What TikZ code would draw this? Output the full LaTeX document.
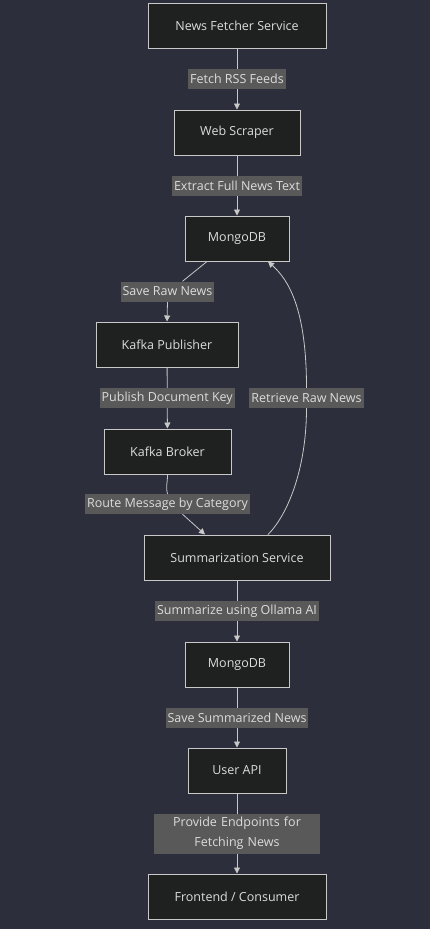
\documentclass[tikz,border=0pt]{standalone}
\usepackage{fontspec}
\setmainfont{Open Sans}
\usetikzlibrary{arrows.meta}
\definecolor{bgcol}{HTML}{2C2F3B}
\definecolor{boxfill}{HTML}{1F2020}
\definecolor{boxline}{HTML}{C8C8C8}
\definecolor{lblfill}{HTML}{595959}
\definecolor{txtcol}{HTML}{DCDCDC}
\tikzstyle{vertex}=[rectangle,draw=boxline,fill=boxfill,text=txtcol,minimum height=45pt,inner sep=0pt,line width=1pt,font=\fontsize{12.5}{15}\selectfont]
\tikzstyle{edge} = [draw=boxline,line width=0.8pt]
\tikzstyle{arrow} = [-{Triangle[width=6pt,length=6pt]}]
\tikzstyle{weight} = [fill=lblfill,text=txtcol,inner xsep=2pt,inner ysep=0pt,minimum height=20pt,align=center,font=\fontsize{12.5}{20}\selectfont]

\begin{document}
\begin{tikzpicture}[x=1pt,y=-1pt]
        \fill[bgcol] (0,0) rectangle (430,929);
        \useasboundingbox (0,0) rectangle (430,929);
        \node[vertex,minimum width=178pt] (1) at (237,25.5) {News Fetcher Service};
        \node[vertex,minimum width=126pt] (2) at (237,132.5) {Web Scraper};
        \node[vertex,minimum width=104pt] (3) at (237,238.5) {MongoDB};
        \node[vertex,minimum width=142pt] (4) at (167,344.5) {Kafka Publisher};
        \node[vertex,minimum width=127pt] (5) at (167.5,451.5) {Kafka Broker};
        \node[vertex,minimum width=186pt] (6) at (237,557.5) {Summarization Service};
        \node[vertex,minimum width=104pt] (7) at (237,664.5) {MongoDB};
        \node[vertex,minimum width=98pt] (8) at (237,770.5) {User API};
        \node[vertex,minimum width=178pt] (9) at (237,896.5) {Frontend / Consumer};
        % labels of the bent edges
        \node[weight] (l3) at (167.5,291.5) {Save Raw News};
        \node[weight] (l5) at (167.5,504) {Route Message by Category};
        \node[weight] (l6) at (306.5,398) {Retrieve Raw News};
        \path[edge,arrow] (1) -- node[weight] {Fetch RSS Feeds} (2);
        \path[edge,arrow] (2) -- node[weight] {Extract Full News Text} (3);
        \path[edge] ([xshift=-30pt]3.south) -- ([xshift=15pt]l3.north);
        \path[edge,arrow] (l3.south) -- (4.north);
        \path[edge,arrow] (4) -- node[weight] {Publish Document Key} (5);
        \path[edge] (5.south) .. controls +(0,10) and +(-2,-8) .. (l5.north);
        \path[edge,arrow] ([xshift=15pt]l5.south) -- ([xshift=-32pt]6.north);
        \path[edge] ([xshift=31pt]6.north) .. controls +(20,-20) and +(0,60) .. (l6.south);
        \path[edge,arrow] (l6.north) .. controls +(0,-80) and +(20,18) .. ([xshift=31pt]3.south);
        \path[edge,arrow] (6) -- node[weight] {Summarize using Ollama AI} (7);
        \path[edge,arrow] (7) -- node[weight] {Save Summarized News} (8);
        \path[edge,arrow] (8) -- node[weight,text width=162pt,minimum height=40pt] {Provide Endpoints for\\Fetching News} (9);
        % redraw the bent labels on top
        \node[weight] at (l3) {Save Raw News};
        \node[weight] at (l5) {Route Message by Category};
        \node[weight] at (l6) {Retrieve Raw News};
    \end{tikzpicture}
\end{document}
